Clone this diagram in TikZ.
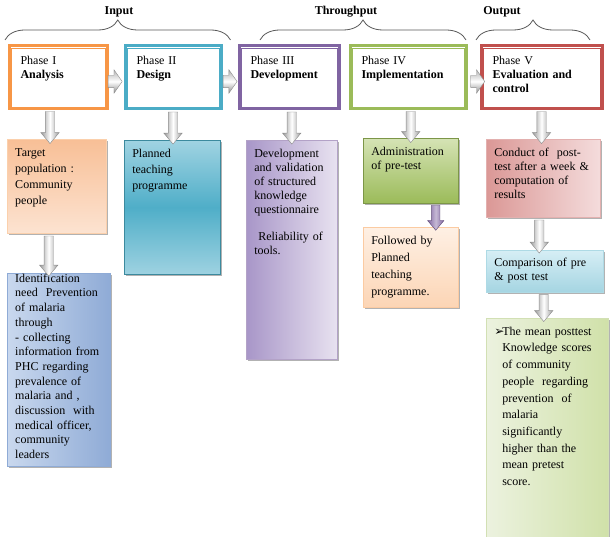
\documentclass[tikz,border=0pt]{standalone}
\usepackage{fontspec}
\setmainfont{Liberation Serif}
\newfontfamily\dingfont{DejaVu Sans}
\usetikzlibrary{
  arrows.meta,
  positioning,
  shapes.arrows,
  calc,
  decorations.pathreplacing,
  shadows
}
\definecolor{PhOrange}{HTML}{F79646}
\definecolor{PhTeal}{HTML}{4BACC6}
\definecolor{PhPurple}{HTML}{8064A2}
\definecolor{PhGreen}{HTML}{9BBB59}
\definecolor{PhRed}{HTML}{C0504D}
\definecolor{TgtA}{HTML}{F8BF96}
\definecolor{TgtB}{HTML}{FCE3D1}
\definecolor{PlanA}{HTML}{A0D3E2}
\definecolor{PlanM}{HTML}{4FAEC8}
\definecolor{PlanB}{HTML}{9ED2E1}
\definecolor{IdA}{HTML}{C9D8EE}
\definecolor{IdB}{HTML}{8FABD6}
\definecolor{DevA}{HTML}{A896C8}
\definecolor{DevB}{HTML}{E8E2F0}
\definecolor{AdmA}{HTML}{D5E3B5}
\definecolor{AdmB}{HTML}{9BBB59}
\definecolor{FolA}{HTML}{FEF0E4}
\definecolor{FolB}{HTML}{FCD5B5}
\definecolor{ConA}{HTML}{DB9896}
\definecolor{ConB}{HTML}{F4DCDC}
\definecolor{CmpA}{HTML}{D6EEF5}
\definecolor{CmpB}{HTML}{A5D5E2}
\definecolor{MeanA}{HTML}{ECF2DF}
\definecolor{MeanB}{HTML}{D0E1A9}

\tikzset{
  hdr/.style={font=\fontsize{12}{14}\selectfont\bfseries},
  phase/.style={anchor=north west, draw=#1, line width=3pt, fill=white, align=left,
    inner xsep=11.5pt, inner ysep=8pt, text height=11pt, text depth=36pt},
  card/.style={anchor=north west, align=left, inner xsep=8pt, inner ysep=6pt,
    text height=11pt, draw=#1, line width=0.5pt,
    drop shadow={shadow xshift=1.6pt, shadow yshift=-1.6pt, opacity=0.3, fill=black}},
  darrow/.style={single arrow, rotate=-90, minimum height=#1, minimum width=18pt,
    inner xsep=0pt, inner ysep=4.5pt, single arrow head extend=4.5pt,
    single arrow tip angle=80, draw=black!45, line width=0.4pt,
    left color=black!40, right color=black!40, middle color=white},
  rarrow/.style={single arrow, minimum height=14pt, minimum width=23pt,
    inner xsep=0pt, inner ysep=6pt, single arrow head extend=5.5pt,
    single arrow tip angle=110, draw=black!45, line width=0.4pt,
    top color=black!30, bottom color=black!45, middle color=white},
  brace/.style={decorate, decoration={brace, amplitude=20pt}, draw=black!65,
    line width=0.8pt}
}

\begin{document}
\begin{tikzpicture}[x=1pt, y=-1pt,
  every node/.style={font=\fontsize{12}{14}\selectfont}]
\useasboundingbox (0,0) rectangle (613,537);

% group labels
\node[hdr] (hd-in) at (119,12) {Input};
\node[hdr] (hd-thru) at (346,12) {Throughput};
\node[hdr] (hd-out) at (502,12) {Output};

% phases
\node[phase=PhOrange, text width=75pt] (p1) at (7.5,44.5) {Phase I\\\textbf{Analysis}};
\node[phase=PhTeal, text width=73pt] (p2) at (123.5,44.5) {Phase II\\\textbf{Design}};
\node[phase=PhPurple, text width=77pt] (p3) at (237.5,44.5) {Phase III\\\textbf{Development}};
\node[phase=PhGreen, text width=93pt] (p4) at (348.5,44.5) {Phase IV\\\textbf{Implementation}};
\node[phase=PhRed, text width=98pt] (p5) at (479.5,44.5) {Phase V\\\textbf{Evaluation and\\control}};
\foreach \p/\c in {p1/PhOrange, p2/PhTeal, p3/PhPurple, p4/PhGreen, p5/PhRed}
  \draw[\c, line width=0.8pt] ([shift={(3.5,3.5)}]\p.north west) rectangle ([shift={(-3.5,-3.5)}]\p.south east);

% braces
\draw[brace] ([shift={(-2.5,-4.5)}]p1.north west) -- ([shift={(8,-4.5)}]p2.north east);
\draw[brace] ([shift={(22.5,-4.5)}]p3.north west) -- ([shift={(-1.5,-4.5)}]p4.north east);
\draw[brace] ([shift={(-3.5,-4.5)}]p5.north west) -- ([shift={(-13.5,-4.5)}]p5.north east);

% detail boxes
\node[card=PhOrange!45, top color=TgtA, bottom color=TgtB, text width=83pt, text depth=71pt,
  font=\fontsize{12}{16}\selectfont] (tgt) at (7,139)
  {Target\\population :\\Community\\people};
\node[card=IdB, left color=IdA, right color=IdB, text width=87pt, inner ysep=1pt,
  text height=8pt, text depth=183pt, font=\fontsize{12}{14.7}\selectfont] (ident) at (7,273)
  {Identification\\need\ \ Prevention\\of malaria\\through\\- collecting\\information from\\PHC regarding\\prevalence of\\malaria and ,\\discussion\ \ with\\medical officer,\\community\\leaders};
\node[card=PhTeal!80!black, top color=PlanA, bottom color=PlanB, middle color=PlanM,
  text width=80pt, text depth=111pt, font=\fontsize{12}{16}\selectfont] (plan) at (124,140)
  {Planned\\teaching\\programme};
\node[card=PhPurple!60, left color=DevA, right color=DevB, text width=75pt,
  text depth=196pt] (dev) at (246,140)
  {Development\\and validation\\of structured\\knowledge\\questionnaire\\[13pt]\ Reliability of\\tools.};
\node[card=PhGreen!80!black, top color=AdmA, bottom color=AdmB, text width=79pt,
  text depth=42pt] (adm) at (363,138)
  {Administration\\of pre-test};
\node[card=PhOrange!50, top color=FolA, bottom color=FolB, text width=79pt,
  text depth=57pt, font=\fontsize{12}{17}\selectfont] (fol) at (363,227)
  {Followed by\\Planned\\teaching\\programme.};
\node[card=PhRed!45, left color=ConA, right color=ConB, text width=98pt,
  text depth=55pt] (con) at (486,139)
  {Conduct of\ \ post-\\test after a week \&\\computation of\\results};
\node[card=PhTeal!45, top color=CmpA, bottom color=CmpB, text width=101pt,
  text height=10pt, text depth=20pt] (cmp) at (486,250)
  {Comparison of pre\\\& post test};
\node[card=PhGreen!45, left color=MeanA, right color=MeanB, text width=106pt,
  text depth=204pt, font=\fontsize{12}{16.7}\selectfont] (mean) at (486,318)
  {\leftskip=8pt\hspace*{-8pt}\makebox[8pt][l]{\dingfont\fontsize{12}{12}\selectfont ➢}The mean posttest\\Knowledge scores\\of community\\people\ \ regarding\\prevention\ \ of\\malaria\\significantly\\higher than the\\mean pretest\\score.\par};

% arrows between phases
\path ([shift={(0,4)}]p1.east) -- node[rarrow, pos=0.3] {} ([shift={(0,4)}]p2.west);
\path ([shift={(0,4)}]p2.east) -- node[rarrow, pos=0.36] {} ([shift={(0,4)}]p3.west);
\path ([shift={(0,4)}]p4.east) -- node[rarrow, pos=0.67] {} ([shift={(0,4)}]p5.west);

% arrows down the columns
\path ([shift={(-8,0)}]p1.south) -- node[darrow=32pt] {} ([shift={(-8,0)}]p1.south |- tgt.north);
\path ([shift={(-8,0)}]tgt.south) -- node[darrow=40pt] {} ([shift={(-8,0)}]tgt.south |- ident.north);
\path (p2.south) -- node[darrow=32pt] {} (p2.south |- plan.north);
\path (dev.north |- p3.south) -- node[darrow=32pt] {} (dev.north);
\path (adm.north |- p4.south) -- node[darrow=31pt] {} (adm.north);
\path ([shift={(25,0)}]adm.south) -- node[darrow=25pt, minimum width=16pt, inner ysep=4pt,
  single arrow head extend=4pt, draw=PhPurple!70!black, left color=PhPurple,
  right color=PhPurple, middle color=PhPurple!45] {} ([shift={(25,0)}]adm.south |- fol.north);
\path (p5.south) -- node[darrow=32pt] {} (p5.south |- con.north);
\path ([shift={(-4,0)}]con.south) -- node[darrow=33pt] {} ([shift={(-4,0)}]con.south |- cmp.north);
\path ([shift={(-1,0)}]cmp.south) -- node[darrow=27pt] {} ([shift={(-1,0)}]cmp.south |- mean.north);
\end{tikzpicture}
\end{document}
